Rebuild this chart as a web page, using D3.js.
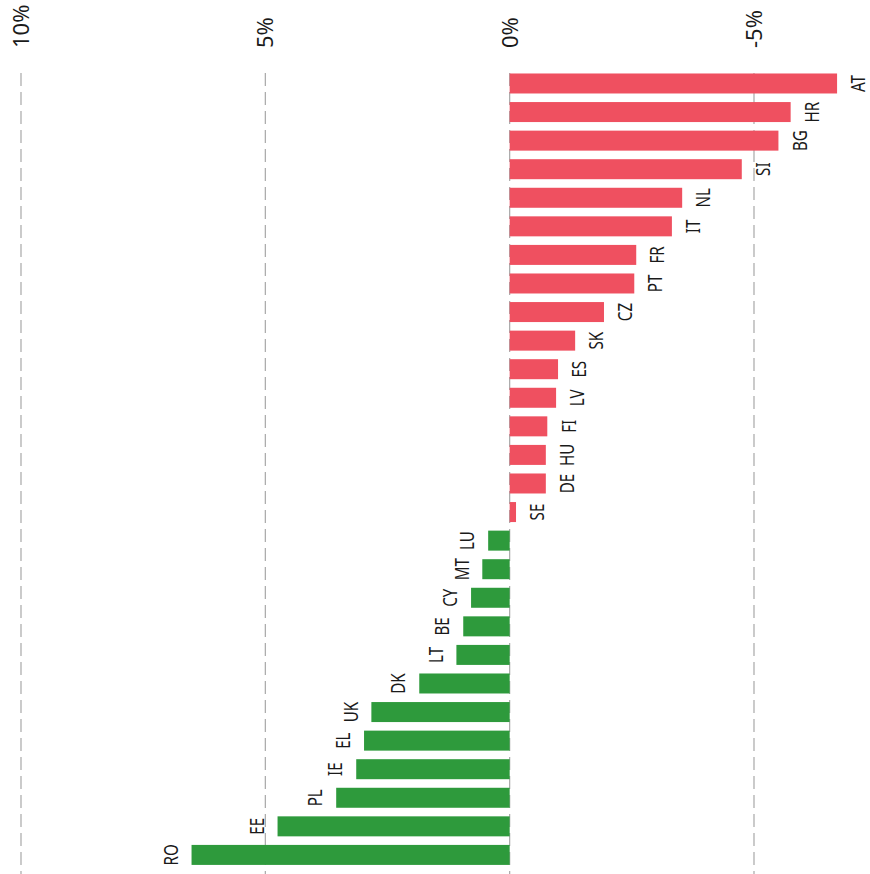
<!DOCTYPE html>
<html>
<head>
<meta charset="utf-8">
<script src="https://cdn.jsdelivr.net/npm/d3@7"></script>
<style>
  body { margin: 0; background: #fff; }
  text { font-family: "Noto Sans", "Open Sans", sans-serif; fill: #1a1a1a; }
</style>
</head>
<body>
<div id="chart"></div>
<script>
// chart dimensions
const width = 870;
const height = 874;

// data (change in %, negative = red)
const countries = ["AT","HR","BG","SI","NL","IT","FR","PT","CZ","SK","ES","LV","FI","HU","DE","SE",
                   "LU","MT","CY","BE","LT","DK","UK","EL","IE","PL","EE","RO"];
const values = [-6.7,-5.75,-5.5,-4.75,-3.53,-3.32,-2.59,-2.55,-1.93,-1.34,-0.99,-0.95,-0.77,-0.74,-0.74,-0.13,
                0.44,0.56,0.79,0.95,1.09,1.85,2.83,2.98,3.14,3.55,4.75,6.51];
const ticks = [10, 5, 0, -5];

const data = countries.map((c, i) => ({name: c, value: values[i]}));

const svg = d3.select("#chart")
  .append("svg")
  .attr("width", width)
  .attr("height", height);

// value scale runs horizontally, positive to the left
const x = d3.scaleLinear()
  .domain([10, -5])
  .range([21, 754]);

// categories run down the page
const y = d3.scaleBand()
  .domain(countries)
  .range([69.2, 869.2])
  .paddingInner(0.3)
  .paddingOuter(0.15);

// dashed grid lines
svg.selectAll(".grid")
  .data(ticks)
  .enter()
  .append("line")
    .attr("class", "grid")
    .attr("x1", d => x(d))
    .attr("x2", d => x(d))
    .attr("y1", 73)
    .attr("y2", height)
    .attr("stroke", "#a8a8a8")
    .attr("stroke-width", 1.2)
    .attr("stroke-dasharray", "13,6");

// tick labels, rotated
svg.selectAll(".tick-label")
  .data(ticks)
  .enter()
  .append("text")
    .attr("class", "tick-label")
    .attr("transform", d => `translate(${x(d)},48) rotate(-90)`)
    .attr("dy", "0.36em")
    .attr("font-size", "22px")
    .text(d => d + "%");

// bars
svg.selectAll(".bar")
  .data(data)
  .enter()
  .append("rect")
    .attr("class", "bar")
    .attr("x", d => Math.min(x(d.value), x(0)))
    .attr("y", d => y(d.name))
    .attr("width", d => Math.abs(x(d.value) - x(0)))
    .attr("height", y.bandwidth())
    .attr("fill", d => d.value < 0 ? "#ef5060" : "#2e9a3c");

// country labels next to bar ends
svg.selectAll(".label")
  .data(data)
  .enter()
  .append("text")
    .attr("class", "label")
    .attr("transform", d => {
      const lx = x(d.value) + (d.value < 0 ? 21 : -21);
      const ly = y(d.name) + y.bandwidth() / 2;
      return `translate(${lx},${ly}) rotate(-90) scale(0.76,1)`;
    })
    .attr("text-anchor", "middle")
    .attr("dy", "0.36em")
    .attr("font-size", "20px")
    .text(d => d.name);
</script>
</body>
</html>
